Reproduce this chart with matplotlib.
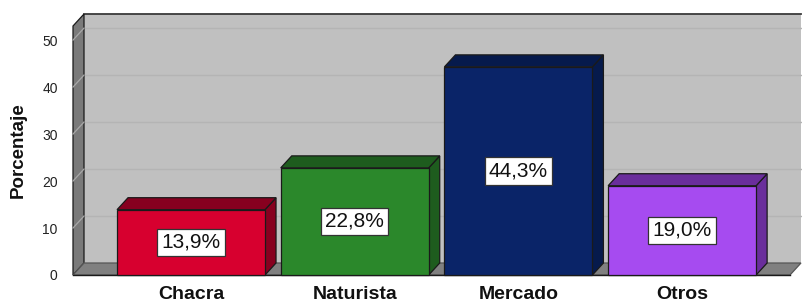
import numpy as np
import matplotlib
matplotlib.use("Agg")
import matplotlib.pyplot as plt
from matplotlib.patches import Polygon, Rectangle

plt.rcParams['font.family'] = ['Liberation Sans', 'DejaVu Sans']

# data
categorias = ["Chacra", "Naturista", "Mercado", "Otros"]
porcentajes = [13.9, 22.8, 44.3, 19.0]
y_ticks = [0, 10, 20, 30, 40, 50]
col_frente = ["#D7002F", "#2B882B", "#0A2468", "#A64BF0"]
col_lado = ["#87001F", "#1E5C1E", "#061A4C", "#6A2E9C"]

W, H = 802, 304
fig = plt.figure(figsize=(W / 100, H / 100), dpi=100)

# front plane of the 3d box in pixels
ax_l, ax_r, ax_b, ax_t = 73, 790, 275, 26
ax = fig.add_axes([ax_l / W, 1 - ax_b / H, (ax_r - ax_l) / W, (ax_b - ax_t) / H])
x0, x1 = -0.721, 3.659
ymax = 53
ax.set_xlim(x0, x1)
ax.set_ylim(0, ymax)
for s in ax.spines.values():
    s.set_visible(False)
ax.patch.set_visible(False)

# depth of the pseudo 3d effect, pixels -> data units
dx = 11 * (x1 - x0) / (ax_r - ax_l)
dy = 12 * ymax / (ax_b - ax_t)

def poly(pts, fc, ec="#1a1a1a", lw=0.9, z=1):
    p = Polygon(pts, closed=True, facecolor=fc, edgecolor=ec, linewidth=lw,
                zorder=z, clip_on=False, joinstyle="miter")
    ax.add_patch(p)

# back wall
poly([(x0 + dx, dy), (x1 + dx, dy), (x1 + dx, ymax + dy), (x0 + dx, ymax + dy)],
     "#C0C0C0", ec="none", z=1)
ax.plot([x0 + dx, x1 + dx], [ymax + dy, ymax + dy], color="#3a3a3a", lw=1.3,
        zorder=2, clip_on=False)
for v in y_ticks[1:]:
    ax.plot([x0 + dx, x1 + dx], [v + dy, v + dy], color="#B4B4B4", lw=1.0,
            zorder=1.5, clip_on=False)

# left wall
poly([(x0, 0), (x0, ymax), (x0 + dx, ymax + dy), (x0 + dx, dy)], "#7A7A7A", z=2)
for v in y_ticks[1:]:
    ax.plot([x0, x0 + dx], [v, v + dy], color="#A8A8A8", lw=0.9, zorder=2.5,
            clip_on=False)

# floor
poly([(x0, 0), (x1, 0), (x1 + dx, dy), (x0 + dx, dy)], "#808080", ec="#555555", z=2)
ax.plot([x0, x1], [0, 0], color="#1a1a1a", lw=1.0, zorder=2.6, clip_on=False)

# bars
bw = 0.904
for i, v in enumerate(porcentajes):
    l, r = i - bw / 2, i + bw / 2
    poly([(r, 0), (r + dx, dy), (r + dx, v + dy), (r, v)], col_lado[i], z=3)
    poly([(l, v), (r, v), (r + dx, v + dy), (l + dx, v + dy)], col_lado[i], z=3)
    ax.add_patch(Rectangle((l, 0), bw, v, facecolor=col_frente[i],
                           edgecolor="#1a1a1a", linewidth=0.9, zorder=4,
                           clip_on=False))
    ax.text(i, v / 2, f"{v:.1f}".replace(".", ",") + "%", ha="center",
            va="center", fontsize=15, color="#111111", zorder=6,
            bbox=dict(boxstyle="square,pad=0.2", facecolor="white",
                      edgecolor="#333333", linewidth=0.9))

ax.set_yticks(y_ticks)
ax.set_yticklabels([str(t) for t in y_ticks], fontsize=10, color="#222222")
ax.tick_params(axis="y", length=0, pad=11)
ax.set_xticks(range(len(categorias)))
ax.set_xticklabels(categorias, fontsize=14, fontweight="bold", color="#111111")
ax.tick_params(axis="x", length=0, pad=8)

ax.set_ylabel("Porcentaje", fontsize=13.5, fontweight="bold", color="#111111",
              va="center")
ax.yaxis.set_label_coords((18 - ax_l) / (ax_r - ax_l), 0.5)

fig.savefig("out.png", dpi=100)
